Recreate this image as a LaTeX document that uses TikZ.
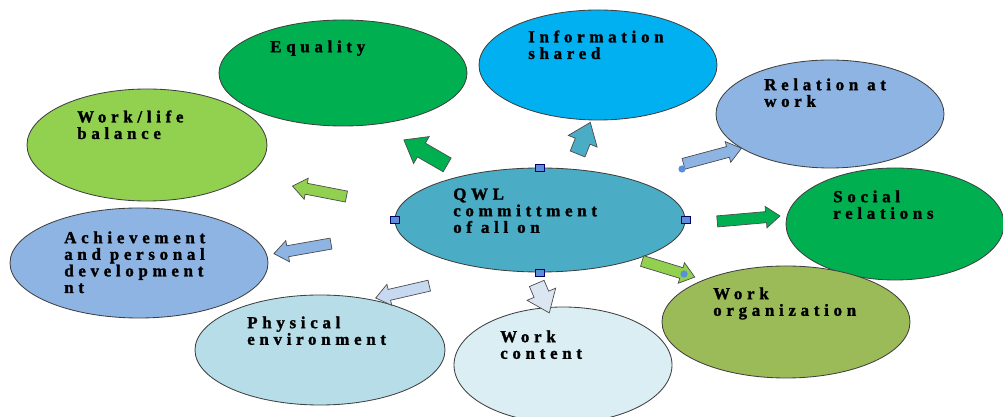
\documentclass[tikz,border=0pt]{standalone}
\usepackage{fontspec}
\usetikzlibrary{shapes.geometric,shapes.arrows}

\newfontfamily\lblfont[LetterSpace=28, FakeBold=1.6]{Liberation Serif Bold}

\definecolor{qwlblue}{HTML}{4BACC6}
\definecolor{darkgreen}{HTML}{00B050}
\definecolor{skyblue}{HTML}{00B0F0}
\definecolor{softblue}{HTML}{8EB4E3}
\definecolor{olivegreen}{HTML}{9BBB59}
\definecolor{limegreen}{HTML}{92D050}
\definecolor{paleblue}{HTML}{DBEEF4}
\definecolor{lightteal}{HTML}{B7DEE8}
\definecolor{lavblue}{HTML}{C6D9F1}
\definecolor{greyblue}{HTML}{DCE6F2}
\definecolor{handleblue}{HTML}{5B8FD9}

\begin{document}
\begin{tikzpicture}[
  bubble/.style={ellipse, draw=black!75, line width=0.6pt, inner sep=0pt},
  lbl/.style={anchor=north west, inner sep=0pt, align=left,
    font=\fontsize{12}{11.8}\selectfont\lblfont},
  blk/.style={single arrow, draw=black!70, line width=0.5pt,
    inner xsep=0pt, inner ysep=0.13cm, single arrow head extend=0.13cm,
    single arrow tip angle=75},
  fatblk/.style={blk, inner ysep=0.19cm, single arrow head extend=0.19cm},
  handle/.style={rectangle, draw=blue!40!black, fill=handleblue, inner sep=0pt,
    minimum width=0.22cm, minimum height=0.17cm},
  dot/.style={circle, fill=handleblue, inner sep=0pt, minimum size=0.18cm}
]

\useasboundingbox (0,0) rectangle (25.075,10.425);

% outer bubbles
\node[bubble, fill=limegreen, minimum width=6cm, minimum height=2.8cm] (wlife) at (3.675,6.8) {};
\node[bubble, fill=darkgreen, minimum width=6.2cm, minimum height=2.65cm] (equal) at (8.575,8.6) {};
\node[bubble, fill=skyblue, minimum width=5.95cm, minimum height=2.75cm] (info) at (14.95,8.8) {};
\node[bubble, fill=softblue, minimum width=5.7cm, minimum height=2.7cm] (relat) at (20.75,7.575) {};
\node[bubble, fill=darkgreen, minimum width=5.45cm, minimum height=2.8cm] (social) at (22.375,4.825) {};
\node[bubble, fill=softblue, minimum width=6.45cm, minimum height=2.75cm] (achiev) at (3.475,3.85) {};
\node[bubble, fill=lightteal, minimum width=6.25cm, minimum height=2.75cm] (phys) at (8.0,1.675) {};
\node[bubble, fill=paleblue, minimum width=5.45cm, minimum height=2.9cm] (wcont) at (14.075,1.3) {};
\node[bubble, fill=olivegreen, minimum width=6.2cm, minimum height=2.8cm] (worg) at (19.65,2.375) {};

% centre
\node[bubble, fill=qwlblue, minimum width=7.25cm, minimum height=2.6cm] (qwl) at (13.5,4.925) {};

% block arrows
\node[fatblk, fill=darkgreen, minimum height=1.25cm, rotate=150] (ar-equal) at (10.75,6.55) {};
\node[fatblk, fill=qwlblue, minimum height=0.85cm, rotate=68] (ar-info) at (14.55,6.85) {};
\node[blk, fill=softblue, minimum height=1.5cm, rotate=15] (ar-relat) at (17.725,6.5) {};
\node[blk, fill=darkgreen, minimum height=1.575cm, rotate=5] (ar-social) at (18.625,4.95) {};
\node[blk, fill=limegreen, minimum height=1.375cm, rotate=-17] (ar-worg) at (16.625,3.725) {};
\node[fatblk, fill=greyblue, minimum height=0.8cm, rotate=-67] (ar-wcont) at (13.525,3.09) {};
\node[blk, fill=lavblue, minimum height=1.375cm, rotate=193] (ar-phys) at (10.15,3.15) {};
\node[blk, fill=softblue, minimum height=1.45cm, rotate=190] (ar-achiev) at (7.65,4.225) {};
\node[blk, fill=limegreen, minimum height=1.375cm, rotate=169] (ar-wlife) at (8.075,5.625) {};

% selection handles
\node[handle] (h-n) at (qwl.north) {};
\node[handle] (h-s) at (qwl.south) {};
\node[handle] (h-w) at (qwl.west) {};
\node[handle] (h-e) at (qwl.east) {};
\node[dot] (d-relat) at (17.05,6.2) {};
\node[dot] (d-worg) at (17.1,3.575) {};

% labels
\node[lbl] (t-qwl) at (11.325,5.72) {QWL\\committment\\of all on};
\node[lbl] (t-equal) at (6.75,9.42) {Equality};
\node[lbl] (t-info) at (13.2,9.67) {Information\\shared};
\node[lbl] (t-relat) at (19.1,8.47) {Relation at\\work};
\node[lbl] (t-social) at (20.825,5.67) {Social\\relations};
\node[lbl] (t-worg) at (17.825,3.245) {Work\\organization};
\node[lbl] (t-wcont) at (12.5,2.17) {Work\\content};
\node[lbl] (t-phys) at (6.175,2.52) {Physical\\environment};
\node[lbl] (t-achiev) at (1.6,4.645) {Achievement\\and personal\\development\\nt};
\node[lbl] (t-wlife) at (1.925,7.67) {Work/life\\balance};

\end{tikzpicture}
\end{document}
